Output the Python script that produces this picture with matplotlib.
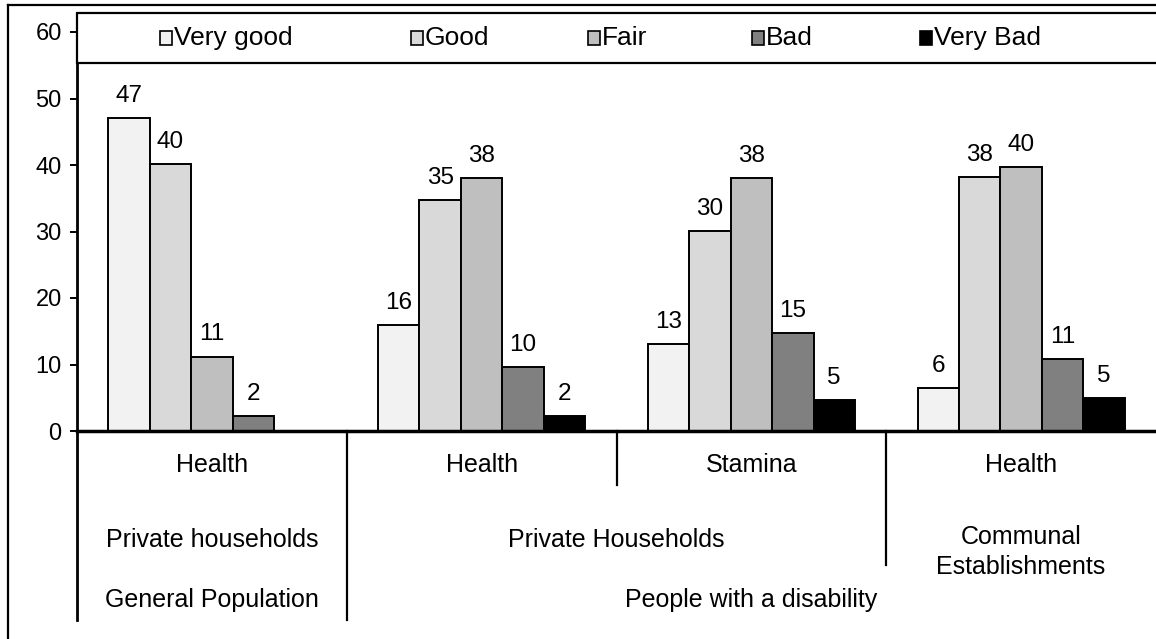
import matplotlib.pyplot as plt
import matplotlib.transforms as mtransforms
from matplotlib.patches import Rectangle
from matplotlib.lines import Line2D
import numpy as np

plt.rcParams['font.family'] = ['Liberation Sans', 'DejaVu Sans']

# dados
categorias = ["Health", "Health", "Stamina", "Health"]
subgrupos = ["Private households", "Private Households", "Communal\nEstablishments"]
populacoes = ["General Population", "People with a disability"]
series = ["Very good", "Good", "Fair", "Bad", "Very Bad"]
very_good = [47, 15.9, 13.1, 6.4]
good = [40.1, 34.7, 30.1, 38.2]
fair = [11.2, 38.0, 38.0, 39.7]
bad = [2.2, 9.6, 14.7, 10.8]
very_bad = [None, 2.3, 4.7, 5.0]
yticks = [0, 10, 20, 30, 40, 50, 60]

cores = ["#F2F2F2", "#D9D9D9", "#BFBFBF", "#808080", "#000000"]

W, H = 1156, 639
FS = 18


def fy(y):
    return 1 - y / H


fig = plt.figure(figsize=(W / 100, H / 100), dpi=100)
ax = fig.add_axes([77 / W, fy(431), (W - 77) / W, (431 - 32) / H])

valores = [very_good, good, fair, bad, very_bad]
largura = 0.1536
x = np.arange(len(categorias)) + 0.5
for k, (serie, vals) in enumerate(zip(series, valores)):
    pos = x + (k - 2) * largura
    for xi, v in zip(pos, vals):
        if v is None:
            continue
        ax.bar(xi, v, largura, color=cores[k], edgecolor="black", linewidth=1.4, zorder=2)
        ax.annotate(f"{v:.0f}", (xi, v), xytext=(0, 8), textcoords="offset points",
                    ha="center", va="bottom", fontsize=17.5)

ax.set_xlim(0, 4)
ax.set_ylim(0, 60)
ax.set_yticks(yticks)
ax.set_xticks([])
ax.tick_params(axis="y", length=5, width=1.4, pad=6, labelsize=17)
for s in ["top", "right"]:
    ax.spines[s].set_visible(False)
ax.spines["left"].set_linewidth(2)
ax.spines["bottom"].set_linewidth(2.5)

# rótulos hierárquicos abaixo do eixo
trans = mtransforms.blended_transform_factory(ax.transData, fig.transFigure)
for i, c in enumerate(categorias):
    ax.text(i + 0.5, fy(465), c, transform=trans, ha="center", va="center", fontsize=FS)
ax.text(0.5, fy(540), subgrupos[0], transform=trans, ha="center", va="center", fontsize=FS)
ax.text(2.0, fy(540), subgrupos[1], transform=trans, ha="center", va="center", fontsize=FS)
ax.text(3.5, fy(552), subgrupos[2], transform=trans, ha="center", va="center", fontsize=FS,
        linespacing=1.3)
ax.text(0.5, fy(600), populacoes[0], transform=trans, ha="center", va="center", fontsize=FS)
ax.text(2.5, fy(600), populacoes[1], transform=trans, ha="center", va="center", fontsize=FS)

for xs, yfim in [(0, 620), (1, 620), (2, 485), (3, 565)]:
    ax.add_line(Line2D([xs, xs], [fy(431), fy(yfim)], transform=trans, color="black",
                       linewidth=2 if xs == 0 else 1.6, clip_on=False))

# legenda em caixa no topo
fig.add_artist(Rectangle((77 / W, fy(63)), 1.1, (63 - 13) / H, transform=fig.transFigure,
                         facecolor="white", edgecolor="black", linewidth=1.6, zorder=5))
pos_leg = [166, 417, 594, 758, 926]
for px, serie, cor in zip(pos_leg, series, cores):
    fig.add_artist(Rectangle(((px - 6) / W, fy(45)), 12 / W, 14 / H, transform=fig.transFigure,
                             facecolor=cor, edgecolor="black", linewidth=1.2, zorder=6))
    fig.text((px + 8) / W, fy(38), serie, ha="left", va="center", fontsize=19, zorder=6)

# moldura externa
fig.add_artist(Line2D([8 / W, 8 / W], [0, fy(5)], transform=fig.transFigure, color="black", linewidth=1.6))
fig.add_artist(Line2D([8 / W, 1], [fy(5), fy(5)], transform=fig.transFigure, color="black", linewidth=1.6))

fig.savefig("out.png", dpi=100)
plt.close(fig)
